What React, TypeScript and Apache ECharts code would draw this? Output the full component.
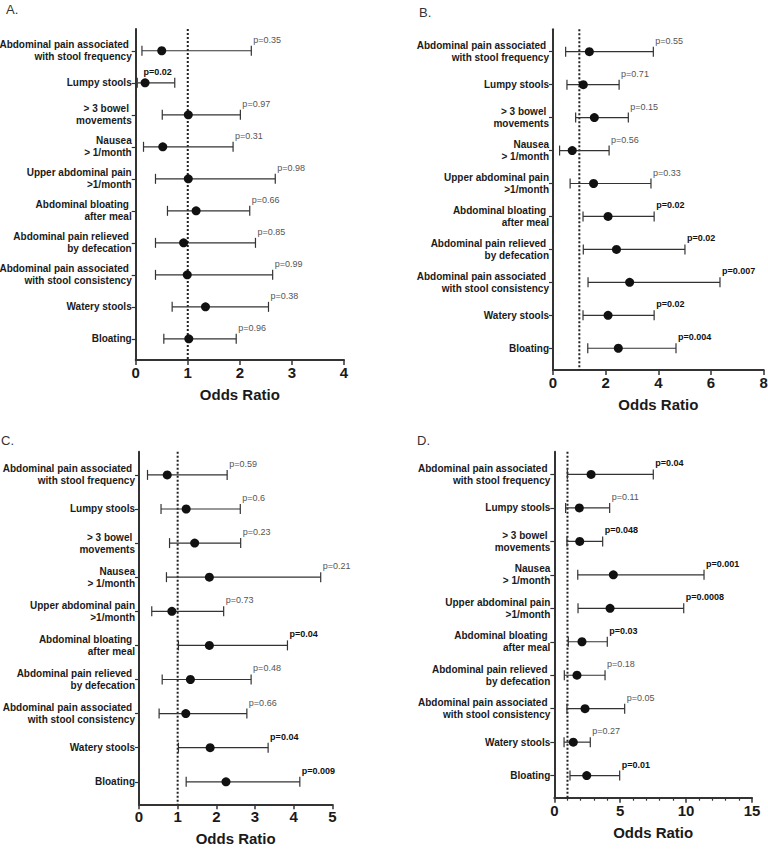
import React, { useEffect, useRef } from 'react';
import * as echarts from 'echarts';

const categories = [
  'Abdominal pain associated \nwith stool frequency',
  'Lumpy stools',
  '> 3 bowel \nmovements',
  'Nausea\n> 1/month',
  'Upper abdominal pain\n>1/month',
  'Abdominal bloating \nafter meal',
  'Abdominal pain relieved \nby defecation',
  'Abdominal pain associated \nwith stool consistency',
  'Watery stools',
  'Bloating',
];

// Reference line (odds ratio = 1)
const refOR = 1;

// Panel A
const aOR = [0.5, 0.18, 1.01, 0.52, 1.01, 1.16, 0.92, 0.99, 1.34, 1.02];
const aLow = [0.12, 0.03, 0.51, 0.15, 0.38, 0.61, 0.38, 0.38, 0.7, 0.54];
const aHigh = [2.22, 0.75, 2.01, 1.87, 2.68, 2.19, 2.3, 2.63, 2.55, 1.93];
const aP = ['0.35', '0.02', '0.97', '0.31', '0.98', '0.66', '0.85', '0.99', '0.38', '0.96'];

// Panel B
const bOR = [1.38, 1.15, 1.57, 0.73, 1.54, 2.09, 2.41, 2.91, 2.09, 2.48];
const bLow = [0.48, 0.53, 0.86, 0.25, 0.65, 1.14, 1.15, 1.33, 1.14, 1.32];
const bHigh = [3.81, 2.51, 2.86, 2.13, 3.72, 3.84, 5.01, 6.34, 3.84, 4.67];
const bP = ['0.55', '0.71', '0.15', '0.56', '0.33', '0.02', '0.02', '0.007', '0.02', '0.004'];

// Panel C
const cOR = [0.73, 1.22, 1.44, 1.82, 0.85, 1.82, 1.33, 1.21, 1.84, 2.25];
const cLow = [0.22, 0.57, 0.79, 0.71, 0.33, 1.02, 0.6, 0.52, 1.02, 1.22];
const cHigh = [2.28, 2.62, 2.63, 4.7, 2.19, 3.84, 2.9, 2.79, 3.34, 4.16];
const cP = ['0.59', '0.6', '0.23', '0.21', '0.73', '0.04', '0.48', '0.66', '0.04', '0.009'];

// Panel D
const dOR = [2.79, 1.9, 1.93, 4.48, 4.23, 2.1, 1.72, 2.33, 1.44, 2.46];
const dLow = [0.99, 0.86, 0.96, 1.78, 1.8, 1.06, 0.76, 0.96, 0.74, 1.19];
const dHigh = [7.51, 4.2, 3.67, 11.36, 9.82, 4.02, 3.85, 5.34, 2.73, 4.96];
const dP = ['0.04', '0.11', '0.048', '0.001', '0.0008', '0.03', '0.18', '0.05', '0.27', '0.01'];

const FONT = '"Liberation Sans", Arial, Helvetica, sans-serif';
const INK = '#1a1a1a';
const AXIS = '#333';
const Y_MIN = -0.68;
const Y_MAX = 9.66;

const panels = [
  { letter: 'A.', or: aOR, low: aLow, high: aHigh, p: aP, xMax: 4, xInterval: 1, minor: false,
    grid: { left: 135.7, top: 29, width: 208.3, height: 331 }, letterPos: { left: 6, top: 2.5 }, flip: [1], nameGap: 26.5 },
  { letter: 'B.', or: bOR, low: bLow, high: bHigh, p: bP, xMax: 8, xInterval: 2, minor: false,
    grid: { left: 553, top: 29.3, width: 210.7, height: 340.7 }, letterPos: { left: 419, top: 5.5 }, flip: [], nameGap: 26.5 },
  { letter: 'C.', or: cOR, low: cLow, high: cHigh, p: cP, xMax: 5, xInterval: 1, minor: false,
    grid: { left: 139, top: 451.7, width: 193.3, height: 352.6 }, letterPos: { left: 1, top: 434 }, flip: [], nameGap: 26.5 },
  { letter: 'D.', or: dOR, low: dLow, high: dHigh, p: dP, xMax: 15, xInterval: 5, minor: true,
    grid: { left: 554.3, top: 451.7, width: 197.7, height: 346 }, letterPos: { left: 417, top: 433.5 }, flip: [], nameGap: 27 },
];

const rowIdx = categories.map((_, i) => i);

function buildOption() {
  const grid: any[] = [];
  const xAxis: any[] = [];
  const yAxis: any[] = [];
  const series: any[] = [];
  const graphic: any[] = [];

  panels.forEach((pn, k) => {
    grid.push({ ...pn.grid, containLabel: false, outerBoundsMode: 'none' });
    xAxis.push({
      type: 'value',
      gridIndex: k,
      min: 0,
      max: pn.xMax,
      interval: pn.xInterval,
      name: 'Odds Ratio',
      nameLocation: 'middle',
      nameGap: pn.nameGap,
      nameTextStyle: { fontSize: 15, fontWeight: 'bold', color: INK, fontFamily: FONT },
      axisLine: { show: true, onZero: false, lineStyle: { color: AXIS, width: 2 } },
      axisTick: { show: true, length: 5, lineStyle: { color: AXIS, width: 1.5 } },
      minorTick: { show: pn.minor, splitNumber: 5, length: 3, lineStyle: { color: AXIS, width: 1.2 } },
      splitLine: { show: false },
      axisLabel: { fontSize: 15, fontWeight: 'bold', color: INK, fontFamily: FONT, margin: 5 },
    });
    yAxis.push({
      type: 'value',
      gridIndex: k,
      inverse: true,
      min: Y_MIN,
      max: Y_MAX,
      axisLine: { show: true, onZero: false, lineStyle: { color: AXIS, width: 2 } },
      axisTick: { show: true, length: 4, customValues: rowIdx, lineStyle: { color: AXIS, width: 1.2 } },
      splitLine: { show: false },
      axisLabel: {
        customValues: rowIdx,
        formatter: (v: number) => categories[Math.round(v)] ?? '',
        fontSize: 10,
        fontWeight: 'bold',
        color: INK,
        fontFamily: FONT,
        lineHeight: 12,
        align: 'right',
        margin: 4,
      },
    });

    // dotted reference line at OR = 1
    series.push({
      type: 'line',
      xAxisIndex: k,
      yAxisIndex: k,
      z: 1,
      silent: true,
      symbol: 'none',
      data: [[refOR, Y_MIN], [refOR, Y_MAX]],
      lineStyle: { type: [2, 2], color: '#222', width: 2 },
    });

    const pArr = pn.p;
    const flip = pn.flip;
    series.push({
      type: 'custom',
      xAxisIndex: k,
      yAxisIndex: k,
      encode: { x: [1, 2], y: 0 },
      data: rowIdx.map((i) => [i, pn.low[i], pn.high[i]]),
      z: 2,
      renderItem: (params: any, api: any) => {
        const y = api.value(0);
        const lo = api.coord([api.value(1), y]);
        const hi = api.coord([api.value(2), y]);
        const h = 5;
        const idx = params.dataIndex;
        const pStr = pArr[idx];
        const sig = parseFloat(pStr) < 0.05;
        const isFlip = flip.indexOf(idx) >= 0;
        const stroke = { stroke: AXIS, lineWidth: 1.2 };
        return {
          type: 'group',
          children: [
            { type: 'line', shape: { x1: lo[0], y1: lo[1], x2: hi[0], y2: hi[1] }, style: stroke },
            { type: 'line', shape: { x1: lo[0], y1: lo[1] - h, x2: lo[0], y2: lo[1] + h }, style: stroke },
            { type: 'line', shape: { x1: hi[0], y1: hi[1] - h, x2: hi[0], y2: hi[1] + h }, style: stroke },
            {
              type: 'text',
              x: isFlip ? hi[0] - 3 : hi[0] + 2,
              y: hi[1] - 11,
              style: {
                text: 'p=' + pStr,
                fontSize: 9,
                fontWeight: sig ? 'bold' : 'normal',
                fontFamily: FONT,
                fill: sig ? '#111' : '#555',
                align: isFlip ? 'right' : 'left',
                verticalAlign: 'middle',
              },
            },
          ],
        };
      },
    });
    series.push({
      type: 'scatter',
      xAxisIndex: k,
      yAxisIndex: k,
      symbol: 'circle',
      symbolSize: 9,
      z: 3,
      itemStyle: { color: '#111', opacity: 1 },
      data: rowIdx.map((i) => [pn.or[i], i]),
    });
    graphic.push({
      type: 'text',
      left: pn.letterPos.left,
      top: pn.letterPos.top,
      style: { text: pn.letter, fontSize: 13, fill: '#333', fontFamily: FONT },
    });
  });

  return { animation: false, backgroundColor: '#fff', grid, xAxis, yAxis, series, graphic };
}

export default function App() {
  const ref = useRef<HTMLDivElement>(null);
  useEffect(() => {
    if (!ref.current) return;
    const chart = echarts.init(ref.current, null, { renderer: 'svg' });
    chart.setOption(buildOption() as any);
    return () => chart.dispose();
  }, []);
  return (
    <div
      ref={ref}
      style={{ position: 'absolute', left: 0, top: 0, width: 768, height: 850, background: '#fff' }}
    />
  );
}
